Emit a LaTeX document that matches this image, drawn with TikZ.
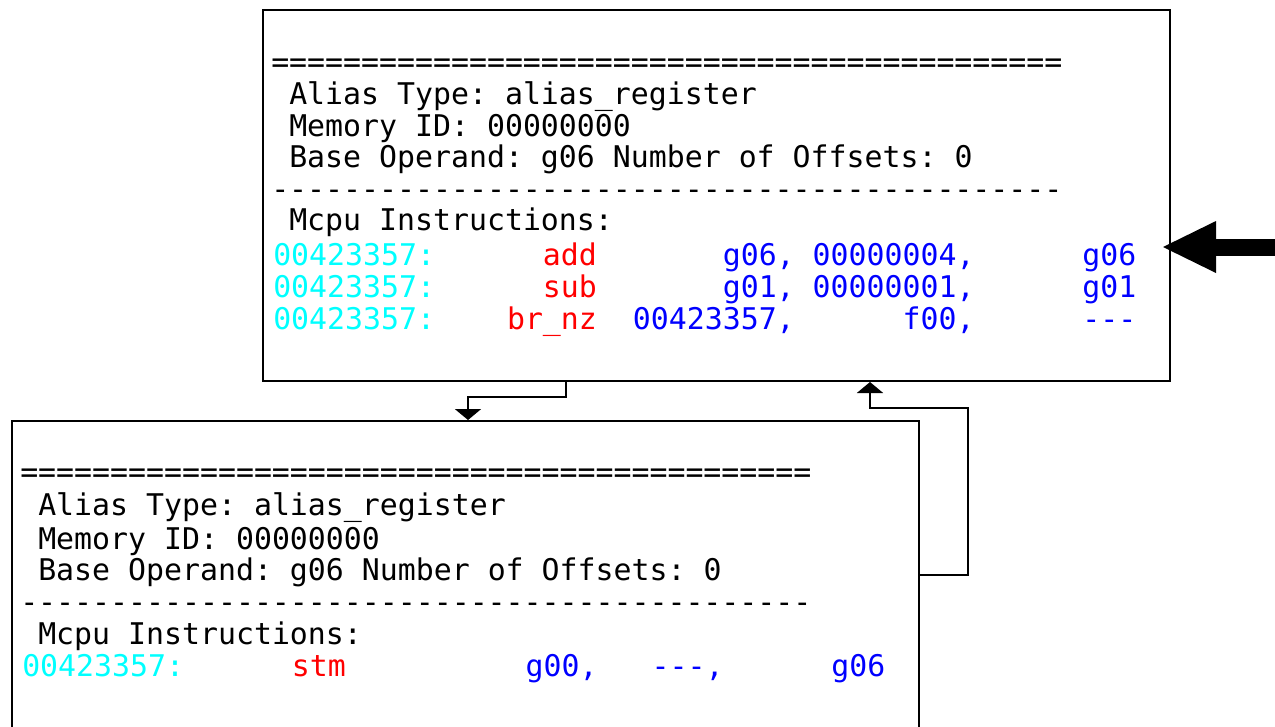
\documentclass[tikz,border=0pt]{standalone}
\usepackage{fontspec}
\setmonofont{DejaVu Sans Mono}
\usetikzlibrary{arrows.meta}

\definecolor{addrcol}{RGB}{0,255,255}
\definecolor{opcol}{RGB}{255,0,0}
\definecolor{argcol}{RGB}{0,0,255}

\newcommand{\sk}[1]{\hspace*{#1\fontdimen2\font}}
\newcommand{\iaddr}[1]{\textcolor{addrcol}{#1}}
\newcommand{\iop}[1]{\textcolor{opcol}{#1}}
\newcommand{\iarg}[1]{\textcolor{argcol}{#1}}
\newcommand{\eqrule}{============================================}
\newcommand{\dashrule}{-{}-{}-{}-{}-{}-{}-{}-{}-{}-{}-{}-{}-{}-{}-{}-{}-{}-{}-{}-{}-{}-{}-{}-{}-{}-{}-{}-{}-{}-{}-{}-{}-{}-{}-{}-{}-{}-{}-{}-{}-{}-{}-{}-}

\tikzstyle{box} = [draw, line width=1.5pt, rectangle, minimum width=680.25pt, inner sep=0pt]
\tikzstyle{line} = [anchor=base west, inner sep=0pt, font=\ttfamily\fontsize{22.4}{27}\selectfont]
\tikzstyle{flow} = [line width=1.5pt, -{Triangle[length=8.25pt, width=19.5pt]}]
\tikzstyle{pointer} = [line width=12.75pt, -{Triangle[length=39.75pt, width=39pt, line width=0pt]}]

\begin{document}
\begin{tikzpicture}[x=0.75pt, y=-0.75pt]
      \useasboundingbox (0,0) rectangle (1275,726);
      \node[box, minimum height=278.25pt] (top) at (716.5,195.5) {};
      \node[box, minimum height=232.5pt] (bot) at (465.5,576) {};
      % upper record
      \node[line] (t1) at (271,72) {\eqrule};
      \node[line] (t2) at (289,104) {Alias Type: alias\_register};
      \node[line] (t3) at (289,136) {Memory ID: 00000000};
      \node[line] (t4) at (289,167) {Base Operand: g06 Number of Offsets: 0};
      \node[line] (t5) at (271,199) {\dashrule};
      \node[line] (t6) at (289,230) {Mcpu Instructions:};
      \node[line] (t7) at (273,265) {\iaddr{00423357:}\sk{6}\iop{add}\sk{7}\iarg{g06,\sk{1}00000004,\sk{6}g06}};
      \node[line] (t8) at (273,297) {\iaddr{00423357:}\sk{6}\iop{sub}\sk{7}\iarg{g01,\sk{1}00000001,\sk{6}g01}};
      \node[line] (t9) at (273,329) {\iaddr{00423357:}\sk{4}\iop{br\_nz}\sk{2}\iarg{00423357,\sk{6}f00,\sk{6}-{}-{}-}};
      % lower record
      \node[line] (b1) at (20,482) {\eqrule};
      \node[line] (b2) at (38,515) {Alias Type: alias\_register};
      \node[line] (b3) at (38,549) {Memory ID: 00000000};
      \node[line] (b4) at (38,580) {Base Operand: g06 Number of Offsets: 0};
      \node[line] (b5) at (20,612) {\dashrule};
      \node[line] (b6) at (38,644) {Mcpu Instructions:};
      \node[line] (b7) at (22,676) {\iaddr{00423357:}\sk{6}\iop{stm}\sk{10}\iarg{g00,\sk{3}-{}-{}-,\sk{6}g06}};
      \coordinate (c1) at (566,397);
      \coordinate (c2) at (468,397);
      \coordinate (c3) at (968,575);
      \coordinate (c4) at (870,408);
      \draw[flow] (top.south -| c1) -- (c1) -- (c2) -- (c2 |- bot.north);
      \draw[flow] (bot.east |- c3) -- (c3) |- (c4) -- (c4 |- top.south);
      %\draw (c4) -- (c3);
      \coordinate (pin) at (1275,247);
      \coordinate (tip) at (1163,247);
      \draw[pointer] (pin) -- (tip);
    \end{tikzpicture}
\end{document}
